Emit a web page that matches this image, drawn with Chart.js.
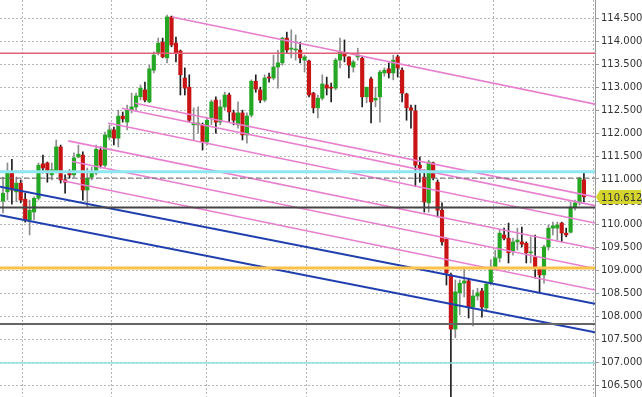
<!DOCTYPE html>
<html lang="en">
<head>
    <meta charset="UTF-8">
    <title>Candles</title>
    <script src="https://cdn.jsdelivr.net/npm/chart.js"></script>
    <style>
        html, body {
            margin: 0;
            padding: 0;
            background: white;
        }
        .chart-container {
            width: 642px;
            height: 397px;
        }
    </style>
</head>
<body>
    <div class="chart-container">
        <canvas id="priceChart"></canvas>
    </div>

<script>
    // candles (index 0 = leftmost)
    let opens = [110.52, 110.72, 111.17, 110.72, 110.91, 110.56, 110.11, 110.28, 110.58, 111.33,
        111.35, 111.09, 111.15, 111.70, 110.98, 111.13, 111.09, 111.48, 111.52, 110.76,
        111.04, 111.13, 111.63, 111.30, 111.91, 112.07, 111.89, 112.37, 112.24, 112.50,
        112.57, 112.79, 112.94, 112.68, 113.37, 113.74, 113.98, 113.64, 114.53, 113.96,
        113.79, 113.20, 113.00, 112.18, 112.18, 112.18, 111.81, 112.33, 112.72, 112.24,
        112.57, 112.83, 112.44, 112.18, 112.44, 111.96, 112.39, 113.13, 112.94, 112.72,
        113.22, 113.20, 113.44, 113.53, 114.07, 113.83, 113.81, 113.81, 113.59, 113.57,
        112.87, 112.55, 112.76, 113.05, 113.00, 112.98, 113.59, 113.74, 113.66, 113.44,
        113.66, 113.63, 112.79, 113.18, 112.72, 112.79, 113.31, 113.40, 113.31, 113.66,
        113.37, 112.85, 112.55, 112.48, 111.30, 111.04, 110.48, 111.35, 110.93, 110.32,
        109.69, 108.91, 107.73, 108.52, 108.73, 108.78, 108.21, 108.45, 108.56, 108.19,
        108.73, 109.08, 109.28, 109.78, 109.71, 109.43, 109.63, 109.63, 109.60, 109.39,
        109.30, 109.06, 108.91, 109.52, 109.93, 109.93, 110.04, 109.82, 109.84, 110.39,
        110.48, 110.98];
    let highs = [111.04, 111.35, 111.43, 111.04, 110.98, 110.69, 110.54, 110.61, 111.35, 111.52,
        111.37, 111.35, 111.85, 111.74, 111.09, 111.20, 111.57, 111.74, 111.59, 111.24,
        111.26, 111.74, 111.70, 112.02, 112.18, 112.13, 112.50, 112.46, 112.61, 112.87,
        112.87, 113.05, 113.11, 113.48, 113.77, 114.07, 114.07, 114.57, 114.55, 114.09,
        113.81, 113.42, 113.27, 112.55, 112.57, 112.22, 112.33, 112.72, 112.79, 112.72,
        112.89, 112.87, 112.50, 112.68, 112.50, 112.44, 113.16, 113.27, 113.00, 113.27,
        113.31, 113.70, 113.81, 114.09, 114.20, 114.25, 114.14, 113.98, 113.70, 113.59,
        112.89, 112.83, 113.27, 113.22, 113.09, 113.63, 114.07, 114.03, 113.66, 113.59,
        113.85, 113.66, 113.00, 113.22, 113.00, 113.37, 113.42, 113.53, 113.70, 113.70,
        113.42, 112.87, 112.61, 112.61, 111.48, 111.20, 111.41, 111.37, 110.98, 110.48,
        109.71, 108.95, 108.80, 108.80, 109.08, 108.84, 108.58, 108.62, 108.62, 108.73,
        109.24, 109.45, 109.89, 109.93, 110.04, 109.71, 109.93, 109.95, 109.63, 109.74,
        109.78, 109.08, 109.56, 110.00, 110.06, 110.06, 110.06, 109.93, 110.50, 110.54,
        111.04, 111.13];
    let lows = [110.26, 110.54, 110.45, 110.50, 110.48, 110.06, 109.78, 110.11, 110.54, 111.13,
        110.93, 110.98, 111.13, 110.91, 110.69, 111.02, 111.04, 111.46, 110.54, 110.39,
        110.98, 111.09, 111.24, 111.26, 111.85, 111.74, 111.70, 112.24, 112.07, 112.44,
        112.48, 112.72, 112.68, 112.66, 113.31, 113.70, 113.64, 113.53, 113.88, 113.55,
        112.83, 112.83, 112.24, 111.85, 112.00, 111.63, 111.74, 112.18, 112.00, 112.18,
        112.50, 112.24, 112.18, 112.11, 111.85, 111.78, 112.35, 112.89, 112.66, 112.68,
        113.11, 113.16, 112.98, 113.48, 113.74, 113.64, 113.59, 113.53, 113.33, 112.79,
        112.44, 112.33, 112.72, 112.83, 112.68, 112.94, 113.42, 113.55, 113.20, 113.33,
        113.59, 112.57, 112.66, 112.22, 112.57, 112.24, 113.24, 113.20, 113.16, 113.22,
        112.68, 112.28, 112.11, 110.83, 110.93, 110.28, 110.28, 110.98, 110.17, 109.56,
        108.69, 106.20, 107.54, 108.04, 108.43, 107.97, 107.80, 108.36, 107.99, 108.15,
        108.69, 109.02, 109.19, 109.67, 109.17, 109.34, 109.45, 109.52, 109.17, 109.17,
        108.84, 108.52, 108.73, 109.45, 109.78, 109.67, 109.63, 109.74, 109.82, 110.32,
        110.43, 110.50];
    let closes = [110.69, 111.15, 110.76, 110.91, 110.54, 110.11, 110.32, 110.58, 111.30, 111.24,
        111.13, 111.20, 111.70, 110.98, 110.93, 111.09, 111.46, 111.54, 110.76, 111.02,
        111.15, 111.65, 111.30, 111.96, 112.07, 111.89, 112.37, 112.31, 112.50, 112.57,
        112.81, 112.98, 112.72, 113.40, 113.70, 113.96, 113.66, 114.53, 113.92, 113.74,
        113.27, 112.98, 112.28, 112.22, 112.22, 111.81, 112.28, 112.68, 112.24, 112.57,
        112.83, 112.46, 112.28, 112.44, 111.96, 112.37, 113.13, 112.96, 112.72, 113.20,
        113.20, 113.44, 113.53, 114.07, 113.81, 113.85, 113.83, 113.64, 113.66, 112.83,
        112.55, 112.76, 113.07, 112.98, 112.98, 113.59, 113.77, 113.68, 113.48, 113.55,
        113.70, 112.79, 113.00, 112.68, 112.76, 113.33, 113.37, 113.31, 113.59, 113.42,
        112.87, 112.55, 112.50, 111.30, 111.24, 110.50, 111.37, 111.02, 110.32, 109.63,
        108.95, 107.73, 108.54, 108.73, 108.78, 108.21, 108.45, 108.52, 108.21, 108.71,
        109.08, 109.28, 109.82, 109.71, 109.39, 109.63, 109.67, 109.58, 109.39, 109.41,
        109.08, 108.91, 109.52, 109.93, 109.98, 110.00, 109.82, 109.78, 110.39, 110.48,
        111.02, 110.612];

    // horizontal levels
    let levelPrices = [113.74, 111.16, 111.02, 110.38, 109.06, 107.84, 106.99];
    let levelColors = ["#e0607a", "#8ee6f0", "#6a6a6a", "#444444", "#ffc24a", "#666666", "#8fe3e3"];
    let levelWidths = [1.5, 3, 1, 2, 3, 2, 1.5];

    // sloped channel lines: start index, price at start, price at right edge
    let trendStart = [38.1, 29.8, 26.8, 23.7, 14.7, 15.6, 13.5, -0.68, -0.68];
    let trendStartPrice = [114.53, 112.65, 112.54, 112.22, 111.83, 111.38, 110.96, 110.83, 110.21];
    let trendEndPrice = [112.63, 110.61, 110.42, 110.04, 109.48, 109.05, 108.58, 108.28, 107.66];
    let trendColors = ["#e87fcf", "#e87fcf", "#e87fcf", "#e87fcf", "#e87fcf", "#e87fcf", "#e87fcf", "#1f3fae", "#1f3fae"];

    let yTicks = [106.5, 107, 107.5, 108, 108.5, 109, 109.5, 110, 110.5, 111, 111.5, 112, 112.5, 113, 113.5, 114, 114.5];
    let xGrid = [14.5, 34.5, 57.5, 79.5, 99.2, 121.8];

    let xMin = -0.68;
    let xMax = 133.5;

    let upColor = "#24a824";
    let downColor = "#c81414";

    let bodyColors = opens.map((o, i) => closes[i] >= o ? upColor : downColor);
    let wickColors = opens.map((o, i) => closes[i] >= o ? "#8c8c8c" : "#1e1e1e");

    let datasets = [];

    for (let i = 0; i < levelPrices.length; i++) {
        datasets.push({
            type: "line",
            data: [{x: xMin, y: levelPrices[i]}, {x: xMax, y: levelPrices[i]}],
            borderColor: levelColors[i],
            borderWidth: levelWidths[i],
            borderDash: i == 2 ? [5, 3] : [],
            pointRadius: 0,
            order: 1
        });
    }

    for (let i = 0; i < trendStart.length; i++) {
        datasets.push({
            type: "line",
            data: [{x: trendStart[i], y: trendStartPrice[i]}, {x: xMax, y: trendEndPrice[i]}],
            borderColor: trendColors[i],
            borderWidth: i < 7 ? 1.6 : 2,
            pointRadius: 0,
            order: 1
        });
    }

    datasets.push({
        type: "bar",
        data: opens.map((o, i) => ({x: i, y: [lows[i], highs[i]]})),
        backgroundColor: wickColors,
        barThickness: 1,
        grouped: false,
        order: 3
    });

    datasets.push({
        type: "bar",
        data: opens.map((o, i) => ({x: i, y: [o, closes[i]]})),
        backgroundColor: bodyColors,
        barThickness: 3.5,
        minBarLength: 1,
        grouped: false,
        order: 2
    });

    let labelFont = {family: "Verdana, 'DejaVu Sans', sans-serif", size: 10};

    // yellow box with the last price on the axis
    let lastPriceTag = {
        id: "lastPriceTag",
        afterDraw(chart) {
            let ctx = chart.ctx;
            let yScale = chart.scales.y;
            let price = closes[closes.length - 1];
            let y = Math.round(yScale.getPixelForValue(price));
            let x0 = yScale.left;
            ctx.save();
            ctx.fillStyle = "#d4d42c";
            ctx.beginPath();
            ctx.moveTo(x0 + 1, y);
            ctx.lineTo(x0 + 5, y - 7);
            ctx.lineTo(641, y - 7);
            ctx.lineTo(641, y + 7);
            ctx.lineTo(x0 + 5, y + 7);
            ctx.closePath();
            ctx.fill();
            ctx.fillStyle = "#333333";
            ctx.font = "10px Verdana, 'DejaVu Sans', sans-serif";
            ctx.textBaseline = "middle";
            ctx.fillText(price.toFixed(3), x0 + 6, y + 1);
            ctx.restore();
        }
    };

    let ctx = document.getElementById("priceChart").getContext("2d");
    let priceChart = new Chart(ctx, {
        type: "bar",
        data: {datasets: datasets},
        options: {
            responsive: true,
            maintainAspectRatio: false,
            animation: false,
            layout: {padding: 0},
            plugins: {
                legend: {display: false},
                tooltip: {enabled: false}
            },
            scales: {
                x: {
                    type: "linear",
                    min: xMin,
                    max: xMax,
                    offset: false,
                    afterBuildTicks: (scale) => {
                        scale.ticks = xGrid.map(v => ({value: v}));
                    },
                    afterFit: (scale) => {
                        scale.height = 0;
                    },
                    ticks: {display: false},
                    grid: {color: "#b4b4b4", drawTicks: false},
                    border: {display: false, dash: [2, 2]}
                },
                y: {
                    position: "right",
                    min: 106.25,
                    max: 114.9,
                    afterBuildTicks: (scale) => {
                        scale.ticks = yTicks.map(v => ({value: v}));
                    },
                    afterFit: (scale) => {
                        scale.width = 47;
                        scale.paddingTop = 0;
                        scale.paddingBottom = 0;
                    },
                    ticks: {
                        color: "#333333",
                        font: labelFont,
                        padding: 2,
                        callback: (v) => Number(v).toFixed(3)
                    },
                    grid: {color: "#b4b4b4", tickLength: 4, tickColor: "#999999"},
                    border: {display: true, color: "#999999", width: 1, dash: [2, 2]}
                }
            }
        },
        plugins: [lastPriceTag]
    });
</script>
</body>
</html>
